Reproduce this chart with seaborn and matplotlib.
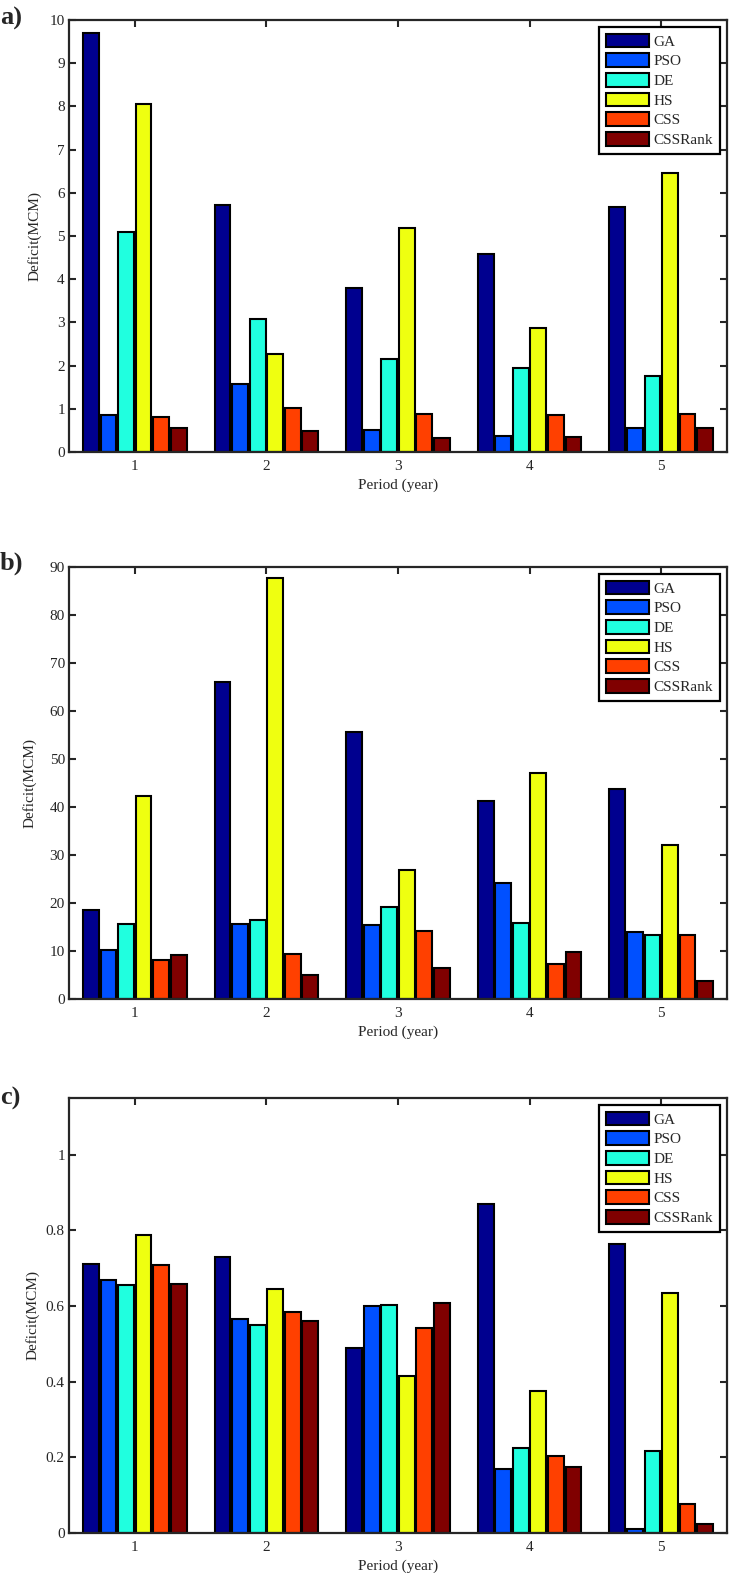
"""
Deficit per period for the six algorithms, three panels (a, b, c).
"""
import matplotlib
matplotlib.use("Agg")
import matplotlib.pyplot as plt
import pandas as pd
import seaborn as sns

periodos = [1, 2, 3, 4, 5]
algoritmos = ["GA", "PSO", "DE", "HS", "CSS", "CSSRank"]
cores = ["#00008F", "#0050FF", "#20FFDF", "#EFFF10", "#FF4000", "#800000"]

# panel a
a_ga = [9.69, 5.72, 3.80, 4.59, 5.68]
a_pso = [0.85, 1.57, 0.50, 0.38, 0.55]
a_de = [5.10, 3.08, 2.15, 1.95, 1.77]
a_hs = [8.05, 2.26, 5.18, 2.88, 6.45]
a_css = [0.82, 1.02, 0.87, 0.85, 0.87]
a_cssrank = [0.55, 0.48, 0.33, 0.35, 0.55]

# panel b
b_ga = [18.5, 66.1, 55.7, 41.2, 43.8]
b_pso = [10.2, 15.6, 15.4, 24.2, 14.0]
b_de = [15.6, 16.4, 19.1, 15.8, 13.3]
b_hs = [42.3, 87.8, 26.9, 47.0, 32.1]
b_css = [8.1, 9.3, 14.2, 7.3, 13.4]
b_cssrank = [9.1, 5.05, 6.4, 9.8, 3.8]

# panel c
c_ga = [0.712, 0.730, 0.490, 0.870, 0.764]
c_pso = [0.668, 0.566, 0.600, 0.168, 0.011]
c_de = [0.655, 0.550, 0.604, 0.226, 0.218]
c_hs = [0.787, 0.644, 0.414, 0.376, 0.634]
c_css = [0.709, 0.584, 0.541, 0.203, 0.077]
c_cssrank = [0.658, 0.561, 0.609, 0.174, 0.023]

paineis = [
    ("a)", [a_ga, a_pso, a_de, a_hs, a_css, a_cssrank], (0, 10), list(range(0, 11))),
    ("b)", [b_ga, b_pso, b_de, b_hs, b_css, b_cssrank], (0, 90), list(range(0, 91, 10))),
    ("c)", [c_ga, c_pso, c_de, c_hs, c_css, c_cssrank], (0, 1.15), [0, 0.2, 0.4, 0.6, 0.8, 1]),
]

# pixel layout of the original figure (730 x 1573)
W, H = 730, 1573
caixas = [(20, 452), (567, 999), (1098, 1533)]   # top, bottom of each axes
y_rotulo = [18, 563, 1098]
x_ylabel = [42, 37, 40]

sns.set_style("ticks")
plt.rcParams["font.family"] = ["Liberation Serif", "DejaVu Serif"]

fig = plt.figure(figsize=(W / 100, H / 100), dpi=100)

for (rotulo, series, ylim, yticks), (topo, base), ty, xl in zip(paineis, caixas, y_rotulo, x_ylabel):
    linhas = []
    for alg, valores in zip(algoritmos, series):
        for p, v in zip(periodos, valores):
            linhas.append({"Period": p, "Deficit": v, "Algoritmo": alg})
    df = pd.DataFrame(linhas)

    ax = fig.add_axes((69 / W, (H - base) / H, 658 / W, (base - topo) / H))
    sns.barplot(data=df, x="Period", y="Deficit", hue="Algoritmo",
                hue_order=algoritmos, palette=cores, width=0.8, gap=0.1,
                edgecolor="black", linewidth=1.5, saturation=1, ax=ax)

    ax.set_xlim(-0.5, 4.5)
    ax.set_ylim(*ylim)
    ax.set_yticks(yticks)
    ax.set_yticklabels([f"{t:g}" for t in yticks])
    ax.tick_params(axis="both", which="both", direction="in", top=True, right=True,
                   length=5, width=1.5, labelsize=11)
    ax.tick_params(axis="x", pad=6)
    ax.tick_params(axis="y", pad=3)
    for sp in ax.spines.values():
        sp.set_visible(True)
        sp.set_linewidth(1.6)
    ax.set_xlabel("Period (year)", fontsize=11, labelpad=4)
    ax.set_ylabel("Deficit(MCM)", fontsize=11)
    ax.yaxis.set_label_coords((xl - 69) / 658, 0.5)

    handles, labels = ax.get_legend_handles_labels()
    leg = ax.legend(handles, labels, loc="upper right", fontsize=11,
                    frameon=True, fancybox=False, edgecolor="black", framealpha=1,
                    handlelength=2.8, handleheight=1.0, handletextpad=0.3,
                    labelspacing=0.3, borderpad=0.45, borderaxespad=0.45)
    leg.get_frame().set_linewidth(1.6)
    for h in leg.legend_handles:
        h.set_edgecolor("black")
        h.set_linewidth(1.5)

    fig.text(0, 1 - ty / H, rotulo, fontsize=19, fontweight="bold", va="center", ha="left")

fig.savefig("out.png", dpi=100)
plt.close(fig)
